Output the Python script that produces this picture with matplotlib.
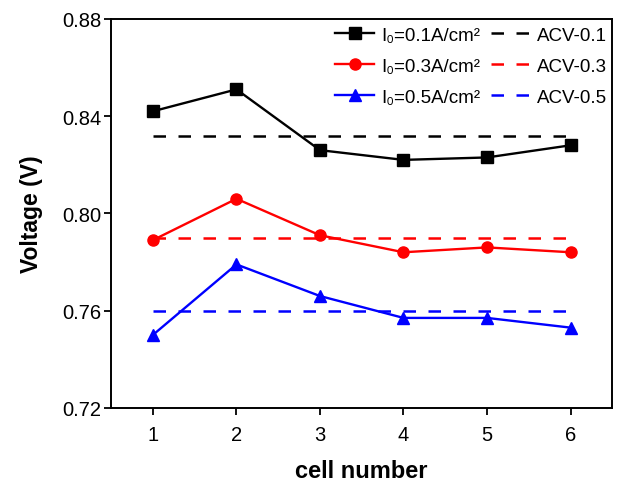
import numpy as np
import matplotlib
matplotlib.use('Agg')
import matplotlib.pyplot as plt

plt.rcParams['font.family'] = ['Liberation Sans', 'DejaVu Sans']

cells = [1, 2, 3, 4, 5, 6]
v_01 = [0.842, 0.851, 0.826, 0.822, 0.823, 0.828]
v_03 = [0.789, 0.806, 0.791, 0.784, 0.786, 0.784]
v_05 = [0.750, 0.779, 0.766, 0.757, 0.757, 0.753]
acv = [0.832, 0.790, 0.760]
labels = ['I\u2080=0.1A/cm\u00b2', 'I\u2080=0.3A/cm\u00b2', 'I\u2080=0.5A/cm\u00b2']
acv_labels = ['ACV-0.1', 'ACV-0.3', 'ACV-0.5']
yticks = [0.72, 0.76, 0.80, 0.84, 0.88]
colors = ['black', 'red', 'blue']
markers = ['s', 'o', '^']

fig = plt.figure(figsize=(6.28, 4.85), dpi=100)
ax = fig.add_axes([0.177, 0.157, 0.798, 0.802])

handles = []
for ys, lab, c, m in zip([v_01, v_03, v_05], labels, colors, markers):
    h, = ax.plot(cells, ys, color=c, marker=m, markersize=8, linewidth=1.7, label=lab)
    handles.append(h)
for a, lab, c in zip(acv, acv_labels, colors):
    h, = ax.plot([cells[0], cells[-1]], [a, a], color=c, linestyle=(0, (5, 5)),
                 linewidth=1.8, label=lab)
    handles.append(h)

ax.set_xlim(0.5, 6.5)
ax.set_ylim(0.72, 0.88)
ax.set_xticks(cells)
ax.set_yticks(yticks)
ax.set_yticklabels(['%.2f' % t for t in yticks])
ax.tick_params(direction='out', length=5, width=1.3, labelsize=14.5)
ax.tick_params(axis='x', pad=7)
ax.tick_params(axis='y', pad=2)
for s in ax.spines.values():
    s.set_linewidth(1.4)

ax.set_xlabel('cell number', fontsize=17, fontweight='bold', labelpad=11)
ax.set_ylabel('Voltage (V)', fontsize=16.5, fontweight='bold', labelpad=14)

ax.legend(handles=handles, ncol=2, loc='upper right', frameon=False, fontsize=13.5,
          handlelength=2.1, columnspacing=0.6, handletextpad=0.35, labelspacing=0.75,
          borderaxespad=0.0, borderpad=0.4, bbox_to_anchor=(1.005, 1.0))

fig.savefig('out.png', dpi=100)
